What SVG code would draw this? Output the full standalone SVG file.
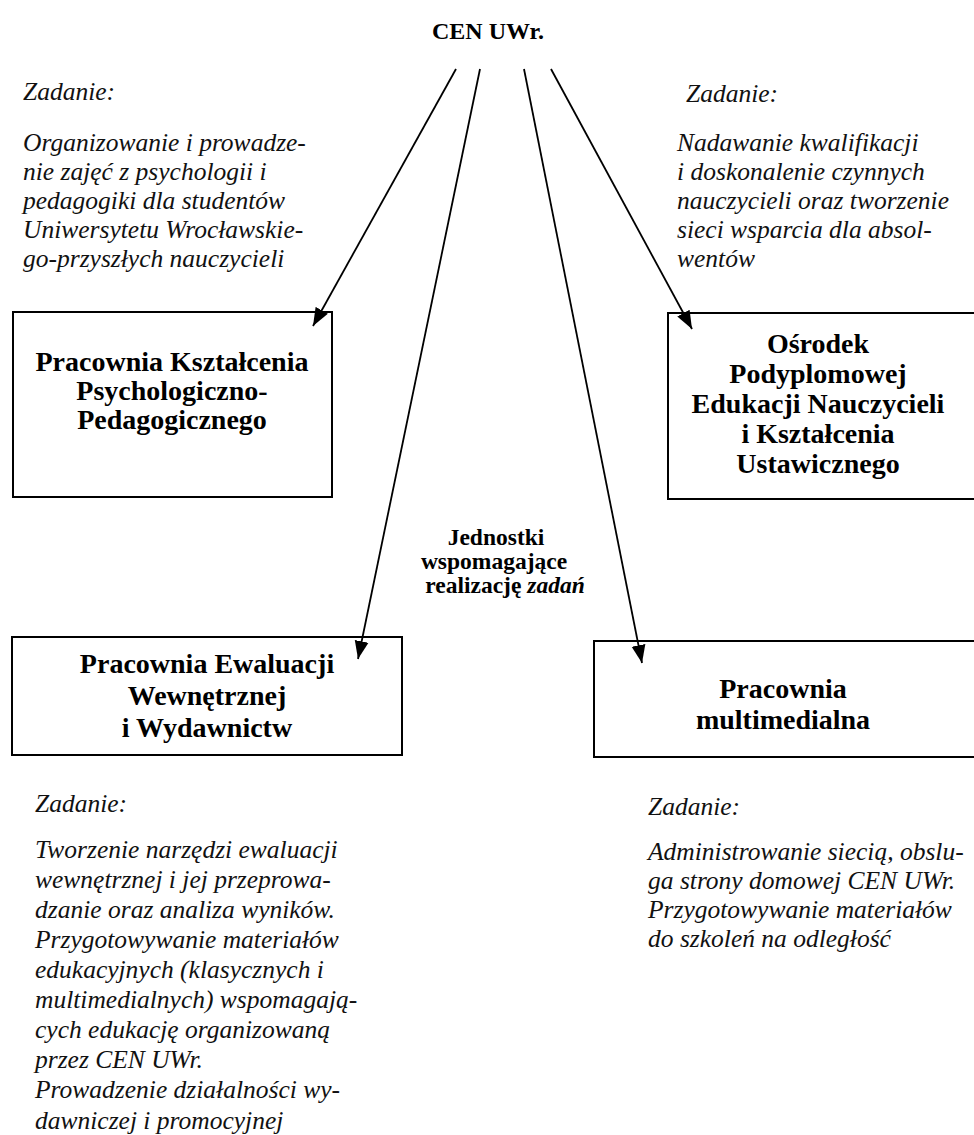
<svg xmlns="http://www.w3.org/2000/svg" width="974" height="1135" viewBox="0 0 974 1135">
<style>
.box{fill:#fff;stroke:#000;stroke-width:2}
.t{font-family:"Liberation Serif","Times New Roman",serif;font-weight:bold;font-size:28px;fill:#000;text-anchor:middle}
.title{font-family:"Liberation Serif","Times New Roman",serif;font-weight:bold;font-size:24px;fill:#000;text-anchor:middle}
.mid{font-family:"Liberation Serif","Times New Roman",serif;font-weight:bold;font-size:23.5px;fill:#000;text-anchor:middle}
.it{font-family:"Liberation Serif","Times New Roman",serif;font-style:italic;font-size:25.5px;fill:#111}
.conn{stroke:#000;stroke-width:1.8;fill:none;marker-end:url(#ah)}
</style>
<defs>
<marker id="ah" markerUnits="userSpaceOnUse" markerWidth="20" markerHeight="16" refX="18" refY="8" orient="auto">
<path d="M0,1 L18,8 L0,15 Z" fill="#000"/>
</marker>
</defs>
<rect width="974" height="1135" fill="#fff"/>

<g id="cen">
<text class="title" x="488" y="39">CEN UWr.</text>
</g>

<g id="task-left">
<text class="it" x="23" y="100">Zadanie:</text>
<text class="it" x="23" y="151">Organizowanie i prowadze-</text>
<text class="it" x="23" y="180">nie zajęć z psychologii i</text>
<text class="it" x="23" y="209">pedagogiki dla studentów</text>
<text class="it" x="23" y="238">Uniwersytetu Wrocławskie-</text>
<text class="it" x="23" y="267">go-przyszłych nauczycieli</text>
</g>

<g id="task-right">
<text class="it" x="686" y="102">Zadanie:</text>
<text class="it" x="677" y="151">Nadawanie kwalifikacji</text>
<text class="it" x="677" y="180">i doskonalenie czynnych</text>
<text class="it" x="677" y="209">nauczycieli oraz tworzenie</text>
<text class="it" x="677" y="238">sieci wsparcia dla absol-</text>
<text class="it" x="677" y="267">wentów</text>
</g>

<g id="pracownia-ksztalcenia">
<rect class="box" x="13" y="312" width="319" height="185"/>
<text class="t" x="172" y="371">Pracownia Kształcenia</text>
<text class="t" x="172" y="400">Psychologiczno-</text>
<text class="t" x="172" y="429">Pedagogicznego</text>
</g>

<g id="osrodek">
<rect class="box" x="668" y="313" width="310" height="186"/>
<text class="t" x="818" y="353">Ośrodek</text>
<text class="t" x="818" y="383">Podyplomowej</text>
<text class="t" x="818" y="413">Edukacji Nauczycieli</text>
<text class="t" x="818" y="443">i Kształcenia</text>
<text class="t" x="818" y="473">Ustawicznego</text>
</g>

<g id="jednostki">
<text class="mid" x="496" y="545">Jednostki</text>
<text class="mid" x="494" y="569">wspomagające</text>
<text class="mid" x="505" y="593">realizację <tspan font-style="italic">zadań</tspan></text>
</g>

<g id="pracownia-ewaluacji">
<rect class="box" x="12" y="637" width="390" height="118"/>
<text class="t" x="207" y="673">Pracownia Ewaluacji</text>
<text class="t" x="207" y="705">Wewnętrznej</text>
<text class="t" x="207" y="737">i Wydawnictw</text>
</g>

<g id="pracownia-multimedialna">
<rect class="box" x="594" y="641" width="384" height="116"/>
<text class="t" x="783" y="698">Pracownia</text>
<text class="t" x="783" y="729">multimedialna</text>
</g>

<g id="task-bottom-left">
<text class="it" x="35" y="812">Zadanie:</text>
<text class="it" x="35" y="858">Tworzenie narzędzi ewaluacji</text>
<text class="it" x="35" y="888">wewnętrznej i jej przeprowa-</text>
<text class="it" x="35" y="918">dzanie oraz analiza wyników.</text>
<text class="it" x="35" y="948">Przygotowywanie materiałów</text>
<text class="it" x="35" y="978">edukacyjnych (klasycznych i</text>
<text class="it" x="35" y="1008">multimedialnych) wspomagają-</text>
<text class="it" x="35" y="1038">cych edukację organizowaną</text>
<text class="it" x="35" y="1068">przez CEN UWr.</text>
<text class="it" x="35" y="1098">Prowadzenie działalności wy-</text>
<text class="it" x="35" y="1129">dawniczej i promocyjnej</text>
</g>

<g id="task-bottom-right">
<text class="it" x="648" y="815">Zadanie:</text>
<text class="it" x="648" y="860">Administrowanie siecią, obslu-</text>
<text class="it" x="648" y="889">ga strony domowej CEN UWr.</text>
<text class="it" x="648" y="918">Przygotowywanie materiałów</text>
<text class="it" x="648" y="947">do szkoleń na odległość</text>
</g>

<g id="connectors">
<line class="conn" x1="456" y1="69" x2="313" y2="326"/>
<line class="conn" x1="480" y1="69" x2="358" y2="659"/>
<line class="conn" x1="524" y1="69" x2="642" y2="663"/>
<line class="conn" x1="551" y1="69" x2="692" y2="329"/>
</g>
</svg>
